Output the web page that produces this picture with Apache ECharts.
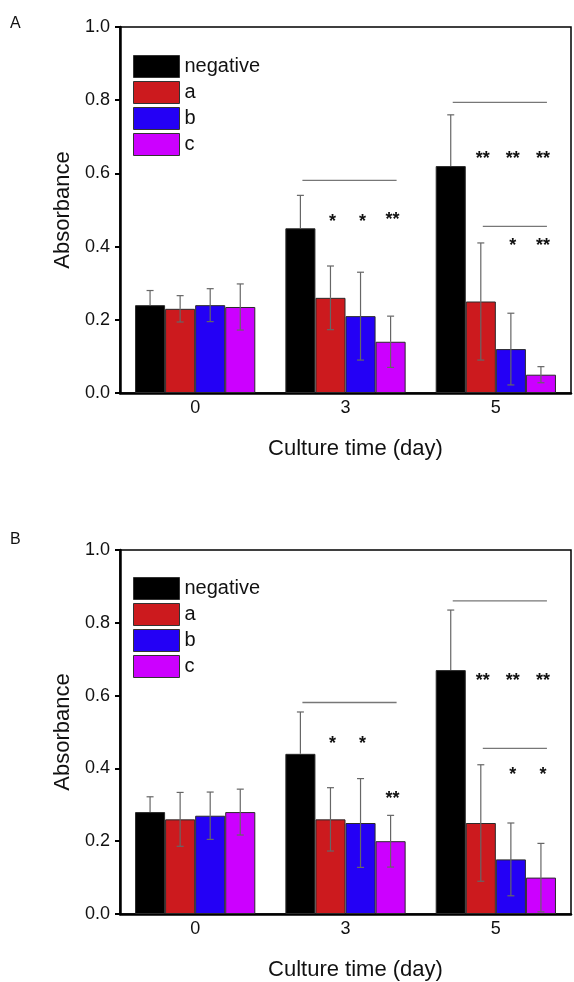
<!DOCTYPE html>
<html>
<head>
<meta charset="utf-8">
<title>Absorbance</title>
<script src="https://cdn.jsdelivr.net/npm/echarts@6/dist/echarts.min.js"></script>
</head>
<body style="margin:0;background:#fff">
<div id="main" style="width:574px;height:982px"></div>
<script>
// categories
var days = ['0', '3', '5'];
var groups = ['negative', 'a', 'b', 'c'];
var colors = ['#000000', '#cc1a1e', '#2400f5', '#cc00ff'];

// panel A: mean and error, one row per group
var meanA = [
  [0.24, 0.45, 0.62],
  [0.23, 0.26, 0.25],
  [0.24, 0.21, 0.12],
  [0.235, 0.14, 0.05]
];
var errA = [
  [0.04, 0.09, 0.14],
  [0.036, 0.087, 0.16],
  [0.045, 0.12, 0.098],
  [0.063, 0.07, 0.022]
];
// panel B
var meanB = [
  [0.28, 0.44, 0.67],
  [0.26, 0.26, 0.25],
  [0.27, 0.25, 0.15],
  [0.28, 0.2, 0.1]
];
var errB = [
  [0.042, 0.115, 0.165],
  [0.074, 0.087, 0.16],
  [0.065, 0.122, 0.1],
  [0.063, 0.071, 0.094]
];
// significance lines: [day, from bar, to bar, y]
var linesA = [[1, 0, 3, 0.581], [2, 0, 3, 0.794], [2, 1, 3, 0.455]];
var linesB = [[1, 0, 3, 0.581], [2, 0, 3, 0.86], [2, 1, 3, 0.455]];
// stars: [day, bar, y, text]
var starsA = [[1, 1, 0.48, '*'], [1, 2, 0.48, '*'], [1, 3, 0.487, '**'],
  [2, 1, 0.654, '**'], [2, 2, 0.654, '**'], [2, 3, 0.654, '**'],
  [2, 2, 0.414, '*'], [2, 3, 0.414, '**']];
var starsB = [[1, 1, 0.48, '*'], [1, 2, 0.48, '*'], [1, 3, 0.33, '**'],
  [2, 1, 0.654, '**'], [2, 2, 0.654, '**'], [2, 3, 0.654, '**'],
  [2, 2, 0.396, '*'], [2, 3, 0.396, '*']];

var FONT = '"Liberation Sans", Arial, sans-serif';

function barOffset(api, k) {
  var band = api.size([1, 0])[0];
  return (k - 1.5) * band * 0.2;
}

function errorSeries(idx, mean, err) {
  var data = [];
  for (var g = 0; g < groups.length; g++) {
    for (var d = 0; d < days.length; d++) {
      data.push([d, g, mean[g][d], err[g][d]]);
    }
  }
  return {
    type: 'custom', xAxisIndex: idx, yAxisIndex: idx, z: 5,
    encode: { x: 0, y: 2 },
    data: data,
    renderItem: function (params, api) {
      var d = api.value(0), g = api.value(1), m = api.value(2), e = api.value(3);
      var x = api.coord([d, m])[0] + barOffset(api, g);
      var top = api.coord([d, m + e])[1];
      var mid = api.coord([d, m])[1];
      var bot = api.coord([d, m - e])[1];
      var st = { stroke: '#666', lineWidth: 1.2 };
      var kids = [
        { type: 'line', shape: { x1: x, y1: top, x2: x, y2: mid }, style: st },
        { type: 'line', shape: { x1: x - 3.5, y1: top, x2: x + 3.5, y2: top }, style: st }
      ];
      // the lower half disappears into the black bar
      if (g !== 0) {
        kids.push({ type: 'line', shape: { x1: x, y1: mid, x2: x, y2: bot }, style: st });
        kids.push({ type: 'line', shape: { x1: x - 3.5, y1: bot, x2: x + 3.5, y2: bot }, style: st });
      }
      return { type: 'group', children: kids };
    }
  };
}

function lineSeries(idx, lines) {
  return {
    type: 'custom', xAxisIndex: idx, yAxisIndex: idx, z: 6,
    encode: { x: 0, y: 3 },
    data: lines,
    renderItem: function (params, api) {
      var d = api.value(0), y = api.value(3);
      var c = api.coord([d, y]);
      return { type: 'line',
        shape: { x1: c[0] + barOffset(api, api.value(1)) + 2, y1: c[1],
                 x2: c[0] + barOffset(api, api.value(2)) + 6, y2: c[1] },
        style: { stroke: '#777', lineWidth: 1.3 } };
    }
  };
}

function starSeries(idx, stars) {
  return {
    type: 'custom', xAxisIndex: idx, yAxisIndex: idx, z: 6,
    encode: { x: 0, y: 2 },
    data: stars,
    renderItem: function (params, api) {
      var d = api.value(0);
      var c = api.coord([d, api.value(2)]);
      return { type: 'text',
        style: { x: c[0] + barOffset(api, api.value(1)) + 2, y: c[1] + 5,
                 text: stars[params.dataIndex][3], fill: '#111',
                 font: 'bold 18px ' + FONT, align: 'center', verticalAlign: 'middle' } };
    }
  };
}

var grids = [
  { left: 120, right: 3, top: 27, height: 366 },
  { left: 120, right: 3, top: 550, height: 364 }
];
var means = [meanA, meanB], errs = [errA, errB];
var lines = [linesA, linesB], stars = [starsA, starsB];

var xAxes = [], yAxes = [], series = [], legends = [];
for (var p = 0; p < 2; p++) {
  xAxes.push({
    type: 'category', gridIndex: p, data: days,
    axisLine: { lineStyle: { color: '#000', width: 2.5 } },
    axisTick: { show: false },
    axisLabel: { color: '#111', fontSize: 18, fontFamily: FONT, margin: 6 },
    name: 'Culture time (day)', nameLocation: 'middle', nameGap: 45,
    nameTextStyle: { color: '#111', fontSize: 22, fontFamily: FONT, padding: [0, 0, 0, 20] }
  });
  yAxes.push({
    type: 'value', gridIndex: p, min: 0, max: 1, interval: 0.2,
    axisLine: { show: true, lineStyle: { color: '#000', width: 2.5 } },
    axisTick: { show: true, length: 5, lineStyle: { color: '#000', width: 2 } },
    splitLine: { show: false },
    axisLabel: { color: '#111', fontSize: 18, fontFamily: FONT, margin: 10,
      formatter: function (v) { return v.toFixed(1); } },
    name: 'Absorbance', nameLocation: 'middle', nameGap: 42,
    nameTextStyle: { color: '#111', fontSize: 22, fontFamily: FONT }
  });
  for (var g = 0; g < groups.length; g++) {
    series.push({
      type: 'bar', name: groups[g], xAxisIndex: p, yAxisIndex: p,
      data: means[p][g], barGap: '0%', barCategoryGap: '20%',
      itemStyle: { color: colors[g], borderColor: '#2a2a2a', borderWidth: 1 }
    });
  }
  series.push(errorSeries(p, means[p], errs[p]));
  series.push(lineSeries(p, lines[p]));
  series.push(starSeries(p, stars[p]));
  legends.push({
    orient: 'vertical', left: 133, top: p === 0 ? 55 : 577, padding: 0,
    data: groups, icon: 'rect', itemWidth: 46, itemHeight: 22, itemGap: 3,
    itemStyle: { borderColor: '#333', borderWidth: 1 },
    textStyle: { color: '#111', fontSize: 20, fontFamily: FONT },
    selectedMode: false
  });
}

grids.forEach(function (g) { g.show = true; g.borderColor = '#000'; g.borderWidth = 1.5; });

var chart = echarts.init(document.getElementById('main'));
chart.setOption({
  animation: false,
  backgroundColor: '#fff',
  grid: grids,
  xAxis: xAxes,
  yAxis: yAxes,
  legend: legends,
  series: series,
  graphic: [
    { type: 'text', left: 10, top: 16, style: { text: 'A', font: '16px ' + FONT, fill: '#111' } },
    { type: 'text', left: 10, top: 532, style: { text: 'B', font: '16px ' + FONT, fill: '#111' } }
  ]
});
</script>
</body>
</html>
